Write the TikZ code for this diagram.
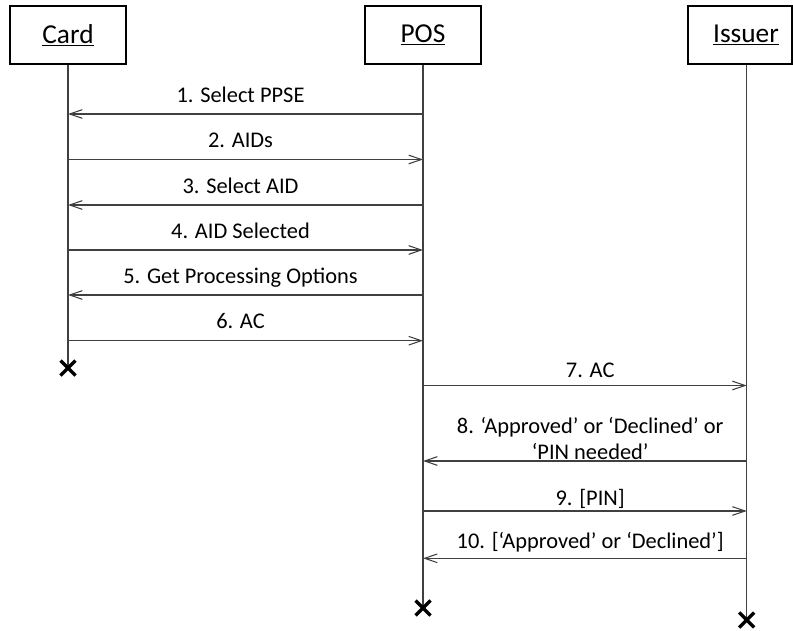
\documentclass[tikz,border=0pt]{standalone}
\usepackage{fontspec}
\setmainfont{Carlito}
\usetikzlibrary{arrows.meta}
\begin{document}
\begin{tikzpicture}[x=0.75pt,y=-0.75pt,
  actor/.style={draw=black, line width=0.9pt, minimum width=87pt, minimum height=43.5pt,
    inner sep=0pt, font=\fontsize{20.5}{24}\selectfont},
  life/.style={draw=black!75, line width=0.8pt},
  msg/.style={draw=black!75, line width=0.8pt, -{Straight Barb[length=9.5pt,width=6.5pt]}},
  lbl/.style={font=\fontsize{16.8}{19.5}\selectfont, align=center, inner sep=0pt,
    midway, anchor=base, text=black},
  left lbl/.style={lbl, xshift=-3.75pt},
  right lbl/.style={lbl, xshift=4pt},
  xmark/.pic={\draw[line width=2.5pt, black] (-7.5,-7.5) -- (7.5,7.5) (-7.5,7.5) -- (7.5,-7.5);}
]
\useasboundingbox (0,0) rectangle (793,631);

% participants
\node[actor] (card) at (68,35) {\underline{Card}};
\node[actor, minimum width=78pt] (issuer) at (740,35) {\hspace*{9pt}\underline{Issuer}};
\node[actor] (pos) at (423,35) {\underline{POS}};

% lifeline ends
\coordinate (cardEnd) at (68,368);
\coordinate (posEnd) at (423,608);
\coordinate (issuerEnd) at (746.7,620);

\draw[life] (card.south) -- (cardEnd);
\draw[life] (pos.south) -- (posEnd);
\draw[life] (issuerEnd |- issuer.south) -- (issuerEnd);

\pic at (cardEnd) {xmark};
\pic at (posEnd) {xmark};
\pic at (issuerEnd) {xmark};

% messages between card and terminal
\draw[msg] (posEnd |- 0,114) -- node[left lbl, yshift=8.8pt] {1. Select PPSE} (cardEnd |- 0,114);
\draw[msg] (cardEnd |- 0,159.5) -- node[left lbl, yshift=8.8pt] {2. AIDs} (posEnd |- 0,159.5);
\draw[msg] (posEnd |- 0,205) -- node[left lbl, yshift=8.8pt] {3. Select AID} (cardEnd |- 0,205);
\draw[msg] (cardEnd |- 0,250) -- node[left lbl, yshift=8.8pt] {4. AID Selected} (posEnd |- 0,250);
\draw[msg] (posEnd |- 0,295) -- node[left lbl, yshift=8.8pt] {5. Get Processing Options} (cardEnd |- 0,295);
\draw[msg] (cardEnd |- 0,340.7) -- node[left lbl, yshift=8.8pt] {6. AC} (posEnd |- 0,340.7);

% messages between terminal and issuer
\draw[msg] (posEnd |- 0,385.5) -- node[right lbl, yshift=5.8pt] {7. AC} (issuerEnd |- 0,385.5);
\draw[msg] (issuerEnd |- 0,461) -- node[right lbl, yshift=1.5pt] {8. ‘Approved’ or ‘Declined’ or\\‘PIN needed’} (posEnd |- 0,461);
\draw[msg] (posEnd |- 0,511) -- node[right lbl, yshift=4.5pt] {9. [PIN]} (issuerEnd |- 0,511);
\draw[msg] (issuerEnd |- 0,558.3) -- node[right lbl, yshift=7.5pt] {10. [‘Approved’ or ‘Declined’]} (posEnd |- 0,558.3);
\end{tikzpicture}
\end{document}
